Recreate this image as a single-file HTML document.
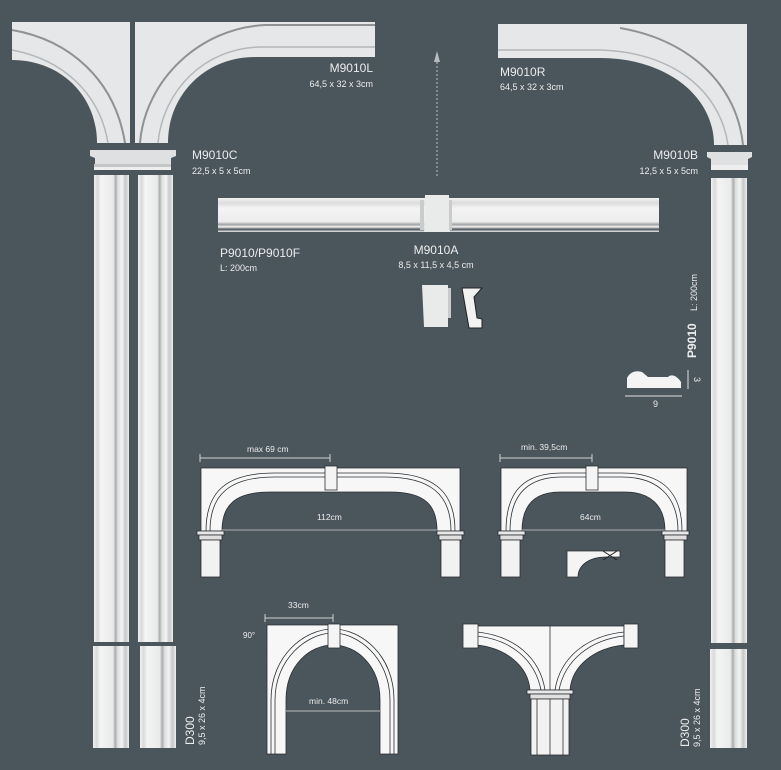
<!DOCTYPE html>
<html><head><meta charset="utf-8"><style>
html,body{margin:0;padding:0;background:#4b555c;}
svg{display:block}
text{font-family:"Liberation Sans",sans-serif;fill:#eceded;}
</style></head><body>
<svg width="781" height="770" viewBox="0 0 781 770" xmlns="http://www.w3.org/2000/svg">
<defs>
<linearGradient id="pv" x1="0" x2="1" y1="0" y2="0">
<stop offset="0" stop-color="#f2f2f2"/><stop offset="0.1" stop-color="#d8d9da"/><stop offset="0.2" stop-color="#f4f4f4"/><stop offset="0.55" stop-color="#e9eaea"/><stop offset="0.62" stop-color="#a9acae"/><stop offset="0.68" stop-color="#dcdddd"/><stop offset="0.8" stop-color="#f4f4f4"/><stop offset="0.9" stop-color="#c6c8c9"/><stop offset="1" stop-color="#eeeeee"/>
</linearGradient>
<linearGradient id="ph" x1="0" x2="0" y1="0" y2="1">
<stop offset="0" stop-color="#f2f2f2"/><stop offset="0.15" stop-color="#dcdcdc"/><stop offset="0.3" stop-color="#f4f4f4"/><stop offset="0.7" stop-color="#ececec"/><stop offset="0.78" stop-color="#9ea1a3"/><stop offset="0.85" stop-color="#f2f2f2"/><stop offset="0.92" stop-color="#4b555c"/><stop offset="1" stop-color="#eeeeee"/>
</linearGradient>
</defs>

<path d="M12,22 H130 V143 H97 C97,95 60,60 12,60 Z" fill="#e6e7e8"/>
<path d="M12,30 C70,40 115,80 125,143" fill="none" stroke="#8e9295" stroke-width="2"/>
<path d="M12,50 C65,60 100,95 108,143" fill="none" stroke="#b4b7b9" stroke-width="1.5"/>
<path d="M135,22 H375 V57 H255 C205,57 168,95 168,143 H135 Z" fill="#e6e7e8"/>
<path d="M140,143 C145,80 200,28 265,25 H375" fill="none" stroke="#8e9295" stroke-width="2"/>
<path d="M158,143 C163,90 205,48 260,47 H375" fill="none" stroke="#b4b7b9" stroke-width="1.5"/>
<path d="M90,150 H176 V156 L171,158 V164 H95 V158 L90,156 Z" fill="#dfe0e1"/>
<rect x="94" y="164" width="77" height="3" fill="#c4c6c7"/>
<rect x="94" y="167" width="77" height="3" fill="#eeeeee"/>
<rect x="94" y="175" width="35" height="467" fill="url(#pv)"/>
<rect x="138" y="175" width="35" height="467" fill="url(#pv)"/>
<rect x="93" y="646" width="36" height="102" fill="url(#pv)"/>
<rect x="140" y="646" width="36" height="102" fill="url(#pv)"/>

<path d="M498,24 H747 V145 H714 C714,95 665,58 600,58 H498 Z" fill="#e6e7e8"/>
<path d="M498,50 H600 C672,52 720,90 728,145" fill="none" stroke="#b4b7b9" stroke-width="1.5"/>
<path d="M620,28 C690,40 737,85 743,145" fill="none" stroke="#8e9295" stroke-width="2"/>
<path d="M707,152 H752 V157 L748,159 V165 H711 V159 L707,157 Z" fill="#dfe0e1"/>
<rect x="711" y="165" width="37" height="5" fill="#eeeeee"/>
<rect x="711" y="178" width="36" height="465" fill="url(#pv)"/>
<rect x="710" y="649" width="37" height="99" fill="url(#pv)"/>

<rect x="218" y="198" width="441" height="34" fill="url(#ph)"/>
<path d="M425,195 H449 L450,232 H424 Z" fill="#e9eaea"/>
<rect x="420" y="200" width="4" height="30" fill="#c9cbcc"/><rect x="449" y="200" width="3" height="30" fill="#c9cbcc"/>
<line x1="437" y1="176" x2="437" y2="60" stroke="#b8bcbf" stroke-width="1" stroke-dasharray="2,2"/>
<path d="M434,62 L437,51 L440,62 Z" fill="#b8bcbf"/>

<path d="M422,285 H448 V327 H424 Z" fill="#e9eaea"/>
<rect x="448" y="288" width="3" height="30" fill="#c9cbcc"/>
<path d="M462,288 H482 L474,297 L477,318 L482,319 V328 H469 Z" fill="#f2f2f2" stroke="#222" stroke-width="1"/>
<path d="M627,388 V378 C630,372 636,370 642,372 L648,377 H668 C672,373 678,377 681,382 V388 Z" fill="#f4f4f4"/>
<line x1="625" y1="396" x2="682" y2="396" stroke="#dfe0e1" stroke-width="1"/>
<line x1="688" y1="370" x2="688" y2="389" stroke="#dfe0e1" stroke-width="1"/>
<text x="653" y="407" font-size="9">9</text>
<text transform="translate(694,377) rotate(90)" font-size="9">3</text>
<text transform="translate(696,358) rotate(-90)" font-size="12" font-weight="bold">P9010</text>
<text transform="translate(697,311) rotate(-90)" font-size="9">L: 200cm</text>

<g stroke="#2a2f33" stroke-width="0.8">
<path d="M201,468 H460 V531 H437 C437,505 425,492 390,492 H270 C235,492 222,505 222,531 H201 Z" fill="#f7f7f7"/>
<path d="M206,531 C206,490 228,473 275,473 H385 C432,473 455,490 455,531" fill="none"/>
<path d="M210,531 C210,494 230,477 275,477 H385 C430,477 451,494 451,531" fill="none"/>
<rect x="325" y="466" width="12" height="24" fill="#f4f4f4"/>
<rect x="197" y="531" width="27" height="4" fill="#e8e8e8"/><rect x="199" y="535" width="23" height="5" fill="#e0e0e0"/>
<rect x="437" y="531" width="27" height="4" fill="#e8e8e8"/><rect x="439" y="535" width="23" height="5" fill="#e0e0e0"/>
<rect x="201" y="540" width="19" height="37" fill="#f2f2f2"/><rect x="441" y="540" width="19" height="37" fill="#f2f2f2"/>
</g>
<line x1="222" y1="530" x2="437" y2="530" stroke="#cfd2d4" stroke-width="0.8"/>
<line x1="200" y1="458" x2="330" y2="458" stroke="#cfd2d4" stroke-width="1"/>
<line x1="200" y1="454" x2="200" y2="462" stroke="#cfd2d4"/><line x1="330" y1="454" x2="330" y2="462" stroke="#cfd2d4"/>
<text x="247" y="452" font-size="8.5">max 69 cm</text>
<text x="317" y="520" font-size="8.5">112cm</text>

<g stroke="#2a2f33" stroke-width="0.8">
<path d="M501,468 H687 V531 H665 C665,505 650,492 625,492 H560 C535,492 522,505 522,531 H501 Z" fill="#f7f7f7"/>
<path d="M506,531 C506,490 525,473 562,473 H622 C660,473 682,490 682,531" fill="none"/>
<path d="M510,531 C510,494 528,477 562,477 H622 C655,477 678,494 678,531" fill="none"/>
<rect x="586" y="466" width="12" height="24" fill="#f4f4f4"/>
<rect x="498" y="531" width="27" height="4" fill="#e8e8e8"/><rect x="500" y="535" width="23" height="5" fill="#e0e0e0"/>
<rect x="662" y="531" width="27" height="4" fill="#e8e8e8"/><rect x="664" y="535" width="23" height="5" fill="#e0e0e0"/>
<rect x="501" y="540" width="19" height="37" fill="#f2f2f2"/><rect x="665" y="540" width="19" height="37" fill="#f2f2f2"/>
<path d="M567,551 H620 V557 H605 C590,557 578,565 578,577 H567 Z" fill="#f4f4f4"/>
</g>
<path d="M603,551 L617,560 M617,551 L603,560" stroke="#222" stroke-width="1"/>
<line x1="522" y1="530" x2="665" y2="530" stroke="#cfd2d4" stroke-width="0.8"/>
<line x1="500" y1="458" x2="592" y2="458" stroke="#cfd2d4" stroke-width="1"/>
<line x1="500" y1="454" x2="500" y2="462" stroke="#cfd2d4"/><line x1="592" y1="454" x2="592" y2="462" stroke="#cfd2d4"/>
<text x="521" y="450" font-size="8.5">min. 39,5cm</text>
<text x="580" y="520" font-size="8.5">64cm</text>

<g stroke="#2a2f33" stroke-width="0.8">
<path d="M267,625 H398 V754 H380 V700 C380,665 356,645 333,645 C310,645 286,665 286,700 V754 H267 Z" fill="#f7f7f7"/>
<path d="M271,754 V700 C271,655 305,629 333,629 C361,629 394,655 394,700 V754" fill="none"/>
<path d="M275,754 V700 C275,659 307,633 333,633 C359,633 390,659 390,700 V754" fill="none"/>
<rect x="328" y="624" width="12" height="24" fill="#f4f4f4"/>
</g>
<line x1="286" y1="711" x2="380" y2="711" stroke="#e0e2e3" stroke-width="0.8"/>
<line x1="265" y1="618" x2="333" y2="618" stroke="#cfd2d4" stroke-width="1"/>
<line x1="265" y1="614" x2="265" y2="622" stroke="#cfd2d4"/><line x1="333" y1="614" x2="333" y2="622" stroke="#cfd2d4"/>
<text x="288" y="608" font-size="8.5">33cm</text>
<text x="309" y="704" font-size="8.5">min. 48cm</text>
<text x="243" y="638" font-size="8">90°</text>

<g stroke="#2a2f33" stroke-width="0.8">
<path d="M477,626 H624 V645 C595,648 572,665 570,690 H530 C528,665 505,648 477,645 Z" fill="#f7f7f7"/>
<line x1="550" y1="626" x2="550" y2="690"/>
<path d="M477,632 C515,636 540,658 545,690" fill="none"/>
<path d="M477,636 C512,640 535,660 541,690" fill="none"/>
<path d="M624,632 C586,636 560,658 555,690" fill="none"/>
<path d="M624,636 C590,640 565,660 559,690" fill="none"/>
<rect x="463" y="624" width="15" height="24" fill="#f4f4f4"/>
<rect x="624" y="624" width="14" height="24" fill="#f4f4f4"/>
<rect x="527" y="690" width="46" height="4" fill="#e8e8e8"/><rect x="530" y="694" width="40" height="5" fill="#e0e0e0"/>
<rect x="531" y="699" width="38" height="56" fill="#f2f2f2"/>
<line x1="550" y1="699" x2="550" y2="755"/><line x1="537" y1="699" x2="537" y2="755"/><line x1="563" y1="699" x2="563" y2="755"/>
</g>

<text x="373" y="72" font-size="12" text-anchor="end">M9010L</text>
<text x="373" y="87" font-size="9" text-anchor="end">64,5 x 32 x 3cm</text>
<text x="192" y="159" font-size="12">M9010C</text>
<text x="192" y="174" font-size="9">22,5 x 5 x 5cm</text>
<text x="500" y="76" font-size="12">M9010R</text>
<text x="500" y="90" font-size="9">64,5 x 32 x 3cm</text>
<text x="698" y="159" font-size="12" text-anchor="end">M9010B</text>
<text x="698" y="174" font-size="9" text-anchor="end">12,5 x 5 x 5cm</text>
<text x="220" y="257" font-size="12">P9010/P9010F</text>
<text x="220" y="271" font-size="9">L: 200cm</text>
<text x="436" y="254" font-size="12" text-anchor="middle">M9010A</text>
<text x="436" y="268" font-size="9" text-anchor="middle">8,5 x 11,5 x 4,5 cm</text>
<text transform="translate(194,745) rotate(-90)" font-size="12">D300</text>
<text transform="translate(205,745) rotate(-90)" font-size="9">9,5 x 26 x 4cm</text>
<text transform="translate(689,747) rotate(-90)" font-size="12">D300</text>
<text transform="translate(700,747) rotate(-90)" font-size="9">9,5 x 26 x 4cm</text>
</svg>
</body></html>
